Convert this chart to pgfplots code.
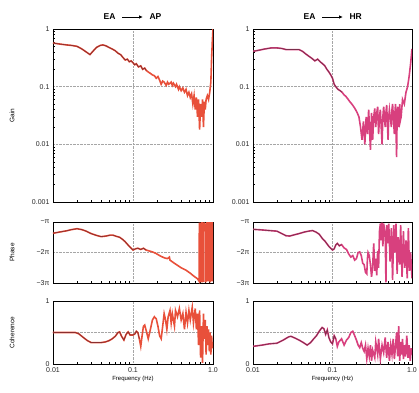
\documentclass[border=0pt]{standalone}
\usepackage{fontspec}
\setmainfont{Liberation Sans}
\usepackage{pgfplots}
\usepackage{pgfplotstable}
\pgfplotsset{compat=1.18}
\usetikzlibrary{arrows.meta}

\definecolor{apred}{HTML}{E8503A}
\definecolor{apdark}{HTML}{8A2E2E}
\definecolor{hrpink}{HTML}{D8407E}
\definecolor{hrdark}{HTML}{7A2E4A}

\pgfplotstableread{
f g
0.010 0.57
0.012 0.55
0.0147 0.53
0.017 0.52
0.020 0.50
0.023 0.45
0.026 0.40
0.029 0.36
0.032 0.42
0.035 0.48
0.039 0.52
0.042 0.53
0.046 0.51
0.050 0.48
0.055 0.45
0.060 0.42
0.065 0.38
0.070 0.36
0.075 0.32
0.080 0.29
0.085 0.30
0.090 0.27
0.095 0.28
0.100 0.26
0.105 0.24
0.110 0.25
0.117 0.22
0.125 0.23
0.132 0.20
0.140 0.21
0.147 0.19
0.155 0.18
0.165 0.17
0.175 0.16
0.185 0.155
0.195 0.14
0.205 0.15
0.215 0.13
0.225 0.11
0.235 0.125
0.245 0.12
0.26 0.105
0.27 0.12
0.28 0.11
0.30 0.12
0.31 0.105
0.32 0.115
0.34 0.10
0.35 0.11
0.37 0.09
0.38 0.10
0.40 0.085
0.42 0.095
0.44 0.08
0.46 0.09
0.48 0.07
0.50 0.08
0.52 0.065
0.54 0.075
0.56 0.05
0.58 0.07
0.60 0.04
0.62 0.065
0.64 0.03
0.66 0.06
0.68 0.018
0.70 0.05
0.72 0.03
0.74 0.06
0.76 0.02
0.78 0.055
0.80 0.04
0.82 0.06
0.85 0.07
0.88 0.06
0.91 0.08
0.94 0.12
0.96 0.3
0.98 0.6
1.00 1.0
}\gainAP

\pgfplotstableread{
f g
0.010 0.41
0.012 0.43
0.014 0.45
0.017 0.47
0.020 0.47
0.023 0.46
0.026 0.44
0.030 0.44
0.034 0.44
0.038 0.44
0.042 0.41
0.046 0.37
0.050 0.34
0.055 0.31
0.060 0.28
0.065 0.30
0.070 0.27
0.075 0.25
0.080 0.23
0.085 0.20
0.090 0.18
0.095 0.16
0.100 0.14
0.105 0.11
0.110 0.10
0.117 0.09
0.125 0.085
0.132 0.08
0.140 0.072
0.147 0.068
0.155 0.062
0.165 0.055
0.175 0.05
0.185 0.045
0.195 0.04
0.205 0.035
0.215 0.03
0.225 0.02
0.235 0.012
0.245 0.025
0.255 0.01
0.265 0.03
0.275 0.015
0.285 0.04
0.30 0.008
0.31 0.035
0.32 0.012
0.33 0.03
0.34 0.042
0.35 0.02
0.36 0.035
0.37 0.045
0.38 0.015
0.39 0.03
0.40 0.04
0.42 0.01
0.43 0.03
0.44 0.045
0.46 0.02
0.47 0.035
0.48 0.048
0.50 0.012
0.51 0.03
0.52 0.04
0.55 0.02
0.56 0.04
0.57 0.05
0.60 0.015
0.61 0.035
0.62 0.05
0.64 0.006
0.65 0.03
0.66 0.045
0.68 0.02
0.70 0.05
0.71 0.025
0.73 0.03
0.76 0.06
0.80 0.05
0.84 0.08
0.88 0.1
0.92 0.15
0.96 0.25
1.00 0.45
}\gainHR

\pgfplotstableread{
f p
0.010 -1.37
0.012 -1.33
0.0147 -1.29
0.017 -1.25
0.020 -1.22
0.023 -1.25
0.026 -1.30
0.030 -1.38
0.035 -1.44
0.040 -1.48
0.046 -1.46
0.052 -1.43
0.056 -1.43
0.062 -1.47
0.068 -1.50
0.075 -1.58
0.080 -1.65
0.090 -1.80
0.100 -1.92
0.107 -1.88
0.115 -1.86
0.125 -1.90
0.135 -1.86
0.146 -1.92
0.16 -1.95
0.175 -1.98
0.19 -2.02
0.20 -2.05
0.215 -2.10
0.23 -2.14
0.25 -2.18
0.27 -2.20
0.285 -2.15
0.29 -2.25
0.32 -2.33
0.36 -2.42
0.40 -2.50
0.46 -2.58
0.52 -2.68
0.58 -2.78
0.64 -2.86
0.67 -2.94
0.675 -1.02
0.68 -2.98
0.69 -1.05
0.70 -2.98
0.702 -1.02
0.71 -2.95
0.715 -1.05
0.72 -2.90
0.725 -1.00
0.73 -2.98
0.735 -1.10
0.74 -2.95
0.745 -1.00
0.75 -2.90
0.755 -1.05
0.76 -2.97
0.765 -1.20
0.78 -1.10
0.80 -1.25
0.81 -1.05
0.812 -2.98
0.82 -2.70
0.83 -2.95
0.832 -1.00
0.84 -2.90
0.85 -1.05
0.86 -2.95
0.87 -1.00
0.88 -2.95
0.89 -1.02
0.90 -2.90
0.91 -1.00
0.92 -2.98
0.93 -1.05
0.94 -2.90
0.95 -1.00
0.96 -2.95
0.97 -1.02
0.98 -2.90
0.99 -1.00
1.00 -2.95
}\phaseAP

\pgfplotstableread{
f p
0.010 -1.24
0.013 -1.26
0.016 -1.28
0.020 -1.30
0.023 -1.38
0.026 -1.45
0.029 -1.46
0.033 -1.42
0.038 -1.38
0.044 -1.33
0.050 -1.30
0.056 -1.28
0.062 -1.33
0.068 -1.40
0.075 -1.55
0.080 -1.62
0.090 -1.80
0.100 -1.92
0.105 -1.88
0.110 -1.75
0.115 -1.70
0.122 -1.78
0.13 -1.74
0.14 -1.85
0.15 -1.90
0.16 -2.05
0.17 -2.15
0.18 -2.10
0.19 -2.25
0.20 -2.20
0.21 -2.00
0.22 -1.98
0.23 -2.10
0.24 -2.35
0.25 -2.40
0.26 -2.65
0.27 -2.70
0.275 -2.20
0.28 -2.00
0.29 -2.10
0.30 -2.40
0.31 -2.80
0.32 -2.45
0.33 -1.70
0.34 -2.60
0.35 -2.20
0.36 -2.75
0.37 -1.95
0.38 -2.50
0.39 -1.30
0.40 -1.05
0.41 -1.60
0.42 -1.02
0.43 -1.80
0.44 -1.05
0.46 -1.40
0.47 -2.98
0.48 -1.10
0.50 -1.70
0.51 -1.05
0.53 -2.30
0.55 -1.20
0.57 -2.90
0.59 -1.10
0.61 -2.00
0.63 -1.05
0.65 -2.70
0.67 -1.50
0.70 -2.40
0.72 -1.10
0.75 -2.80
0.78 -1.30
0.81 -2.50
0.84 -1.60
0.87 -2.85
0.90 -1.20
0.93 -2.60
0.96 -2.00
1.00 -2.85
}\phaseHR

\pgfplotstableread{
f c
0.010 0.50
0.013 0.50
0.016 0.50
0.019 0.50
0.021 0.48
0.024 0.42
0.027 0.37
0.030 0.34
0.035 0.34
0.040 0.34
0.045 0.35
0.050 0.37
0.055 0.40
0.060 0.44
0.065 0.50
0.068 0.51
0.072 0.44
0.077 0.38
0.082 0.47
0.087 0.51
0.092 0.46
0.100 0.46
0.106 0.48
0.110 0.52
0.115 0.50
0.120 0.40
0.125 0.28
0.130 0.45
0.135 0.60
0.140 0.62
0.147 0.52
0.155 0.40
0.165 0.55
0.175 0.70
0.185 0.75
0.195 0.72
0.205 0.60
0.215 0.45
0.225 0.40
0.235 0.60
0.245 0.80
0.255 0.70
0.265 0.55
0.275 0.75
0.29 0.85
0.30 0.65
0.31 0.80
0.33 0.60
0.34 0.85
0.36 0.75
0.38 0.88
0.40 0.70
0.42 0.80
0.44 0.55
0.46 0.82
0.48 0.65
0.50 0.85
0.52 0.70
0.55 0.90
0.57 0.65
0.60 0.88
0.62 0.55
0.64 0.80
0.66 0.30
0.68 0.85
0.70 0.10
0.72 0.60
0.74 0.02
0.76 0.80
0.78 0.40
0.80 0.70
0.82 0.15
0.84 0.60
0.86 0.30
0.88 0.55
0.90 0.20
0.92 0.50
0.94 0.15
0.96 0.45
0.98 0.25
1.00 0.35
}\cohAP

\pgfplotstableread{
f c
0.010 0.28
0.013 0.30
0.016 0.32
0.020 0.33
0.024 0.38
0.028 0.43
0.030 0.44
0.034 0.41
0.038 0.38
0.043 0.34
0.048 0.30
0.053 0.34
0.058 0.40
0.063 0.45
0.068 0.52
0.074 0.58
0.078 0.56
0.082 0.47
0.086 0.54
0.090 0.42
0.095 0.35
0.100 0.32
0.105 0.45
0.110 0.40
0.115 0.28
0.120 0.35
0.130 0.40
0.140 0.30
0.150 0.38
0.160 0.42
0.170 0.50
0.180 0.52
0.190 0.45
0.200 0.38
0.210 0.30
0.220 0.26
0.230 0.34
0.240 0.25
0.250 0.20
0.260 0.30
0.27 0.08
0.28 0.25
0.29 0.12
0.30 0.30
0.31 0.05
0.32 0.22
0.34 0.10
0.35 0.35
0.37 0.15
0.38 0.40
0.40 0.08
0.42 0.30
0.44 0.18
0.46 0.42
0.48 0.10
0.50 0.35
0.52 0.05
0.54 0.30
0.56 0.15
0.58 0.40
0.60 0.08
0.62 0.28
0.64 0.50
0.66 0.12
0.68 0.60
0.70 0.05
0.72 0.35
0.74 0.15
0.76 0.40
0.78 0.08
0.80 0.30
0.83 0.12
0.86 0.45
0.89 0.10
0.92 0.30
0.95 0.05
0.98 0.25
1.00 0.15
}\cohHR

\pgfplotsset{
  every axis/.append style={
    scale only axis,
    xmin=0.01, xmax=1,
    axis line style={line width=0.8pt},
    tick style={black, line width=0.4pt},
    major tick length=0pt, minor tick length=2.5pt,
    tick align=inside,
    grid=major, major grid style={densely dotted, gray!70},
    xtick={0.01,0.1,1},
    minor xtick={0.02,0.03,0.04,0.05,0.06,0.07,0.08,0.09,0.2,0.3,0.4,0.5,0.6,0.7,0.8,0.9},
    tick label style={font=\fontsize{7}{8}\selectfont, text=black!85},
    ylabel style={font=\fontsize{6.5}{7.5}\selectfont, at={(axis description cs:-0.256,0.5)}, anchor=center},
  },
}

\begin{document}
\begin{tikzpicture}
\useasboundingbox (0,0) rectangle (419pt,392pt);

% ---------- left column EA -> AP
\begin{axis}[xmode=log, ymode=log, width=160pt, height=173pt, at={(53pt,190pt)}, anchor=south west,
  xtick pos=left, ytick pos=left, xticklabels={},
  ymin=0.001, ymax=1, ytick={0.001,0.01,0.1,1},
  yticklabels={\mbox{0.001},\mbox{0.01},\mbox{0.1},\mbox{1}},
  minor ytick={0.002,0.003,0.004,0.005,0.006,0.007,0.008,0.009,0.02,0.03,0.04,0.05,0.06,0.07,0.08,0.09,0.2,0.3,0.4,0.5,0.6,0.7,0.8,0.9},
  ylabel={Gain}]
\addplot[apred, line width=1.6pt] table[x=f,y=g] {\gainAP};
\addplot[apdark, line width=0.7pt, restrict x to domain=-5:-1.9] table[x=f,y=g] {\gainAP};
\end{axis}
\begin{axis}[xmode=log, width=160pt, height=61pt, at={(53pt,109pt)}, anchor=south west,
  xtick pos=left, ytick pos=left, xticklabels={},
  ymin=-3, ymax=-1, ytick={-3,-2,-1}, yticklabels={\mbox{−3π},\mbox{−2π},\mbox{−π}},
  ylabel={Phase}]
\addplot[apred, line width=1.6pt] table[x=f,y=p] {\phaseAP};
\addplot[apdark, line width=0.7pt, restrict x to domain=-5:-1.9] table[x=f,y=p] {\phaseAP};
\end{axis}
\begin{axis}[xmode=log, width=160pt, height=63pt, at={(53pt,28pt)}, anchor=south west,
  xtick pos=left, ytick pos=left, xticklabels={\mbox{0.01},\mbox{0.1},\mbox{1.0}},
  ymin=0, ymax=1, ytick={0,0.5,1}, yticklabels={\mbox{0},,\mbox{1}},
  xlabel={Frequency (Hz)}, xlabel style={font=\fontsize{6}{7}\selectfont, yshift=3pt},
  ylabel={Coherence}]
\addplot[apred, line width=1.6pt] table[x=f,y=c] {\cohAP};
\addplot[apdark, line width=0.7pt, restrict x to domain=-5:-2.1] table[x=f,y=c] {\cohAP};
\end{axis}

% ---------- right column EA -> HR
\begin{axis}[xmode=log, ymode=log, width=159pt, height=173pt, at={(253pt,190pt)}, anchor=south west,
  xtick pos=left, ytick pos=left, xticklabels={},
  ymin=0.001, ymax=1, ytick={0.001,0.01,0.1,1},
  yticklabels={\mbox{0.001},\mbox{0.01},\mbox{0.1},\mbox{1}},
  minor ytick={0.002,0.003,0.004,0.005,0.006,0.007,0.008,0.009,0.02,0.03,0.04,0.05,0.06,0.07,0.08,0.09,0.2,0.3,0.4,0.5,0.6,0.7,0.8,0.9}]
\addplot[hrpink, line width=1.6pt] table[x=f,y=g] {\gainHR};
\addplot[hrdark, line width=0.7pt, restrict x to domain=-5:-2.0] table[x=f,y=g] {\gainHR};
\end{axis}
\begin{axis}[xmode=log, width=159pt, height=61pt, at={(253pt,109pt)}, anchor=south west,
  xtick pos=left, ytick pos=left, xticklabels={},
  ymin=-3, ymax=-1, ytick={-3,-2,-1}, yticklabels={\mbox{−3π},\mbox{−2π},\mbox{−π}}]
\addplot[hrpink, line width=1.6pt] table[x=f,y=p] {\phaseHR};
\addplot[hrdark, line width=0.7pt, restrict x to domain=-5:-2.0] table[x=f,y=p] {\phaseHR};
\end{axis}
\begin{axis}[xmode=log, width=159pt, height=63pt, at={(253pt,28pt)}, anchor=south west,
  xtick pos=left, ytick pos=left, xticklabels={\mbox{0.01},\mbox{0.1},\mbox{1.0}},
  ymin=0, ymax=1, ytick={0,0.5,1}, yticklabels={\mbox{0},,\mbox{1}},
  xlabel={Frequency (Hz)}, xlabel style={font=\fontsize{6}{7}\selectfont, yshift=3pt}]
\addplot[hrpink, line width=1.6pt] table[x=f,y=c] {\cohHR};
\addplot[hrdark, line width=0.7pt, restrict x to domain=-5:-2.2] table[x=f,y=c] {\cohHR};
\end{axis}

% ---------- titles
\node[font=\bfseries\fontsize{8.5}{9}\selectfont, anchor=east] at (119pt,375pt) {EA};
\draw[-{Latex[length=4pt,width=3.5pt]}, line width=0.9pt] (122pt,375pt) -- (143pt,375pt);
\node[font=\bfseries\fontsize{8.5}{9}\selectfont, anchor=west] at (146pt,375pt) {AP};
\node[font=\bfseries\fontsize{8.5}{9}\selectfont, anchor=east] at (319pt,375pt) {EA};
\draw[-{Latex[length=4pt,width=3.5pt]}, line width=0.9pt] (322pt,375pt) -- (343pt,375pt);
\node[font=\bfseries\fontsize{8.5}{9}\selectfont, anchor=west] at (346pt,375pt) {HR};
\end{tikzpicture}
\end{document}
